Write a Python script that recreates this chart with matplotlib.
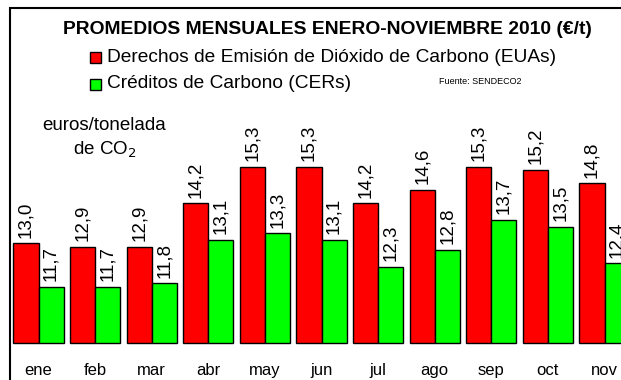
import numpy as np
import matplotlib.pyplot as plt
from matplotlib.patches import Rectangle

plt.rcParams['font.family'] = ['Liberation Sans', 'DejaVu Sans']

meses = ['ene', 'feb', 'mar', 'abr', 'may', 'jun', 'jul', 'ago', 'sep', 'oct', 'nov']
euas = [13.0, 12.9, 12.9, 14.2, 15.3, 15.3, 14.2, 14.6, 15.3, 15.2, 14.8]
cers = [11.7, 11.7, 11.8, 13.1, 13.3, 13.1, 12.3, 12.8, 13.7, 13.5, 12.4]
base = 10.0

W, H = 621, 380
fig = plt.figure(figsize=(W / 100, H / 100), dpi=100)
ax = fig.add_axes([0, 0, 1, 1])

def fx(px):
    return px / W

def fy(py):
    return 1 - py / H

x = np.arange(len(meses))
w = 0.442
rojo = ax.bar(x - w / 2, np.array(euas) - base, w, bottom=base,
              color='#ff0000', edgecolor='black', linewidth=1)
verde = ax.bar(x + w / 2, np.array(cers) - base, w, bottom=base,
               color='#00ff00', edgecolor='black', linewidth=1)

for bars, vals in ((rojo, euas), (verde, cers)):
    for b, v in zip(bars, vals):
        ax.annotate(f'{v:.1f}'.replace('.', ','),
                    (b.get_x() + b.get_width() / 2, v),
                    xytext=(0, 4), textcoords='offset points',
                    rotation=90, ha='center', va='bottom', fontsize=13.5)

for i, m in enumerate(meses):
    ax.text(i, base - 27 / 33.33, m, ha='center', va='center', fontsize=12)

ax.set_xlim(-38.5 / 56.6, (W - 38.5) / 56.6)
ax.set_ylim(base - 36.7 / 33.33, base + 343.3 / 33.33)
ax.axis('off')

# outer frame (runs off the right and bottom edges)
fig.patches.append(Rectangle((fx(10), -0.1), 2, fy(8) + 0.1, transform=fig.transFigure,
                             fill=False, edgecolor='black', linewidth=1.5))

fig.text(fx(327), fy(30), 'PROMEDIOS MENSUALES ENERO-NOVIEMBRE 2010 (€/t)',
         ha='center', va='center', fontsize=13.9, fontweight='bold')

for py, color, label in ((57, '#ff0000', 'Derechos de Emisión de Dióxido de Carbono (EUAs)'),
                         (84, '#00ff00', 'Créditos de Carbono (CERs)')):
    fig.patches.append(Rectangle((fx(90), fy(py + 5.5)), 11 / W, 11 / H,
                                 transform=fig.transFigure, facecolor=color,
                                 edgecolor='black', linewidth=1))
    fig.text(fx(107), fy(py), label, ha='left', va='center', fontsize=13.8)

fig.text(fx(439), fy(82), 'Fuente: SENDECO2', ha='left', va='center', fontsize=6.5)

fig.text(fx(104), fy(125), 'euros/tonelada', ha='center', va='center', fontsize=13.5)
fig.text(fx(105), fy(150), 'de CO$_2$', ha='center', va='center', fontsize=13.5)

fig.savefig('out.png', dpi=100)
